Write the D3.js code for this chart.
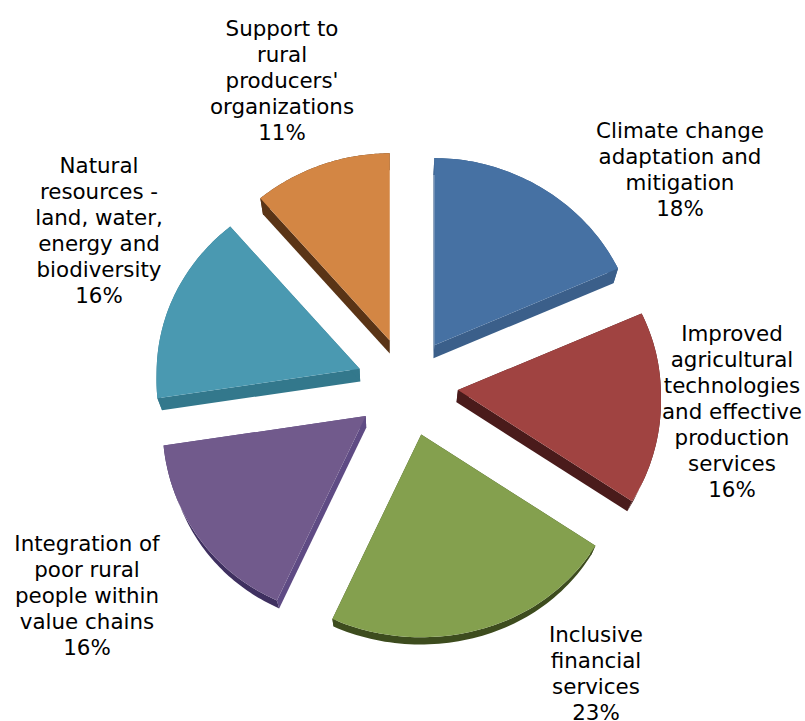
<!DOCTYPE html>
<html>
<head>
<meta charset="utf-8">
<style>
  html, body { margin: 0; padding: 0; background: #fff; }
  svg { display: block; }
  text { font-family: "DejaVu Sans", Verdana, sans-serif; font-size: 21.4px; fill: #000; }
</style>
<script src="https://cdnjs.cloudflare.com/ajax/libs/d3/7.8.5/d3.min.js"></script>
</head>
<body>
<svg id="chart" width="805" height="721"></svg>
<script>
// Funding shares by thematic area, clockwise from twelve o'clock.
const categories = [
  ["Climate change", "adaptation and", "mitigation"],
  ["Improved", "agricultural", "technologies", "and effective", "production", "services"],
  ["Inclusive", "financial", "services"],
  ["Integration of", "poor rural", "people within", "value chains"],
  ["Natural", "resources -", "land, water,", "energy and", "biodiversity"],
  ["Support to", "rural", "producers'", "organizations"]
];
const shares = [18, 16, 23, 16, 16, 11];

const topColors = ["#4671a3", "#a04341", "#84a04e", "#715a8c", "#4a99b1", "#d38644"];
const radialSideColors = ["#3b5f8a", "#4a1b1b", "#3f4f20", "#5f4b84", "#33788c", "#5a3416"];
const arcSideColors = ["#3b5f8a", "#4a1b1b", "#3d4c1e", "#3f3060", "#33788c", "#5a3416"];
const labelAnchors = [[680, 138], [732, 341], [596, 642], [87, 551], [99, 173], [282, 36]];

const LINE_HEIGHT = 26;
const CENTER = { x: 407, y: 387 };
const EXPLODE = { x: 51, y: 49.5 };
const RADIUS = { x: 203, y: 194.6 };
const TILT = 0.04;                    // far edge of the disc shrinks, near edge grows
const NEAR_WIDEN = 0.03;              // extra width on the near half of the disc
const SAG = 5;                        // the disc flattens slightly at its sides
const VANISH = { x: 390, y: 1000 };   // side walls converge on this point
const DEPTH = 0.02;

const svg = d3.select("#chart");
const pie = d3.pie().sort(null).startAngle(0).endAngle(2 * Math.PI);
const slices = pie(shares);

// Offset of a rim point from the slice apex, seen through the tilted view.
function rimOffset(angle) {
  const v = Math.cos(angle);
  const w = 1 + TILT * v;
  return [
    RADIUS.x * Math.sin(angle) / (1 + NEAR_WIDEN * Math.min(v, 0)),
    -RADIUS.y * v / w + SAG * (1 - Math.pow(v, 4))
  ];
}

// Where a point on the top face lands on the underside of the slice.
function lower(p) {
  return [p[0] + (VANISH.x - p[0]) * DEPTH, p[1] + (VANISH.y - p[1]) * DEPTH];
}

const outline = d3.line();
const closed = pts => outline(pts) + "Z";

slices.forEach((s, i) => {
  const mid = (s.startAngle + s.endAngle) / 2;
  const apex = [
    CENTER.x + EXPLODE.x * Math.sin(mid),
    CENTER.y - EXPLODE.y * Math.cos(mid)
  ];
  const rim = d3.range(0, 61).map(k => {
    const a = s.startAngle + (s.endAngle - s.startAngle) * k / 60;
    const o = rimOffset(a);
    return [apex[0] + o[0], apex[1] + o[1]];
  });
  const first = rim[0], last = rim[rim.length - 1];
  const g = svg.append("g").attr("class", "slice");

  // Walls first, then the top face over them.
  g.append("path")
    .attr("d", closed([apex, first, lower(first), lower(apex)]))
    .attr("fill", radialSideColors[i]);
  g.append("path")
    .attr("d", closed([apex, last, lower(last), lower(apex)]))
    .attr("fill", radialSideColors[i]);
  g.append("path")
    .attr("d", closed(rim.concat(rim.map(lower).reverse())))
    .attr("fill", arcSideColors[i]);
  g.append("path")
    .attr("d", closed([apex].concat(rim)))
    .attr("fill", topColors[i]);
});

// Multi-line labels, the last line giving the share.
categories.forEach((lines, i) => {
  const t = svg.append("text")
    .attr("text-anchor", "middle")
    .attr("x", labelAnchors[i][0])
    .attr("y", labelAnchors[i][1]);
  lines.concat(shares[i] + "%").forEach((line, j) => {
    t.append("tspan")
      .attr("x", labelAnchors[i][0])
      .attr("dy", j === 0 ? 0 : LINE_HEIGHT)
      .text(line);
  });
});
</script>
</body>
</html>
